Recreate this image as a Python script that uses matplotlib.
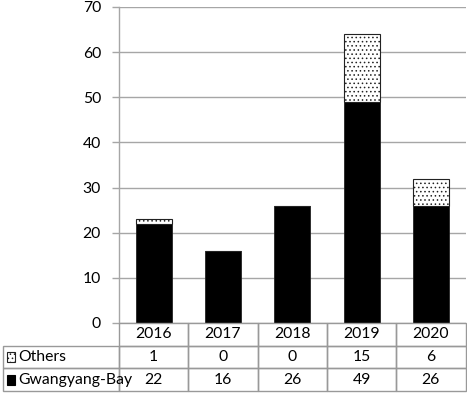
import numpy as np
import matplotlib.pyplot as plt
from matplotlib.patches import Rectangle

plt.rcParams['font.family'] = ['Lato', 'DejaVu Sans']
plt.rcParams['hatch.linewidth'] = 0.6
plt.rcParams['hatch.color'] = '#333333'

years = ['2016', '2017', '2018', '2019', '2020']
gwangyang = [22, 16, 26, 49, 26]
others = [1, 0, 0, 15, 6]
row_names = ['Others', 'Gwangyang-Bay']
yticks = [0, 10, 20, 30, 40, 50, 60, 70]

W, H = 467, 394
fig = plt.figure(figsize=(W / 100, H / 100), dpi=100)

grid_c = '#a6a6a6'
fs = 11.3

# bar chart area (pixel positions)
x0, x1 = 119, 465.5
y_top, y_bot = 7, 323
ax = fig.add_axes([x0 / W, 1 - y_bot / H, (x1 - x0) / W, (y_bot - y_top) / H])
xpos = np.arange(len(years))
ax.bar(xpos, gwangyang, width=0.52, color='black', edgecolor='#222222', linewidth=0.6, zorder=3)
ax.bar(xpos, others, width=0.52, bottom=gwangyang, color='white', edgecolor='#222222',
       linewidth=0.8, hatch='....', zorder=3)
ax.set_xlim(-0.5, len(years) - 0.5)
ax.set_ylim(0, 70)
ax.set_yticks(yticks)
ax.set_xticks([])
ax.yaxis.grid(True, color=grid_c, linewidth=1.0, zorder=0)
for s in ['top', 'right', 'bottom']:
    ax.spines[s].set_visible(False)
ax.spines['left'].set_color(grid_c)
ax.spines['left'].set_linewidth(1.0)
ax.tick_params(axis='y', length=5, width=1.0, color=grid_c, labelsize=fs, pad=8)

# table below (column units shared with bar x)
label_w = (x0 - 3) / ((x1 - x0) / len(years))
tb_top, tb_bot = 323, 391
tax = fig.add_axes([3 / W, 1 - tb_bot / H, (x1 - 3) / W, (tb_bot - tb_top) / H])
tax.set_xlim(-0.5 - label_w, len(years) - 0.5)
tax.set_ylim(3, 0)
tax.axis('off')

lc = '#999999'
lw = 1.0
# header row
for i, yr in enumerate(years):
    tax.add_patch(Rectangle((i - 0.5, 0), 1, 1, fill=False, edgecolor=lc, linewidth=lw, clip_on=False))
    tax.text(i, 0.5, yr, ha='center', va='center', fontsize=fs)
rows = [others, gwangyang]
for r, vals in enumerate(rows):
    yy = r + 1
    tax.add_patch(Rectangle((-0.5 - label_w, yy), label_w, 1, fill=False, edgecolor=lc,
                            linewidth=lw, clip_on=False))
    for i, v in enumerate(vals):
        tax.add_patch(Rectangle((i - 0.5, yy), 1, 1, fill=False, edgecolor=lc, linewidth=lw, clip_on=False))
        tax.text(i, yy + 0.5, str(v), ha='center', va='center', fontsize=fs)
    # legend swatch
    sx = -0.5 - label_w + 0.06
    if r == 0:
        tax.add_patch(Rectangle((sx, yy + 0.3), 0.12, 0.42, facecolor='white', edgecolor='#222222',
                                linewidth=0.8, hatch='....', clip_on=False))
    else:
        tax.add_patch(Rectangle((sx, yy + 0.3), 0.12, 0.42, facecolor='black', edgecolor='black',
                                linewidth=0.8, clip_on=False))
    tax.text(sx + 0.16, yy + 0.5, row_names[r], ha='left', va='center', fontsize=fs)

fig.savefig('out.png', dpi=100)
